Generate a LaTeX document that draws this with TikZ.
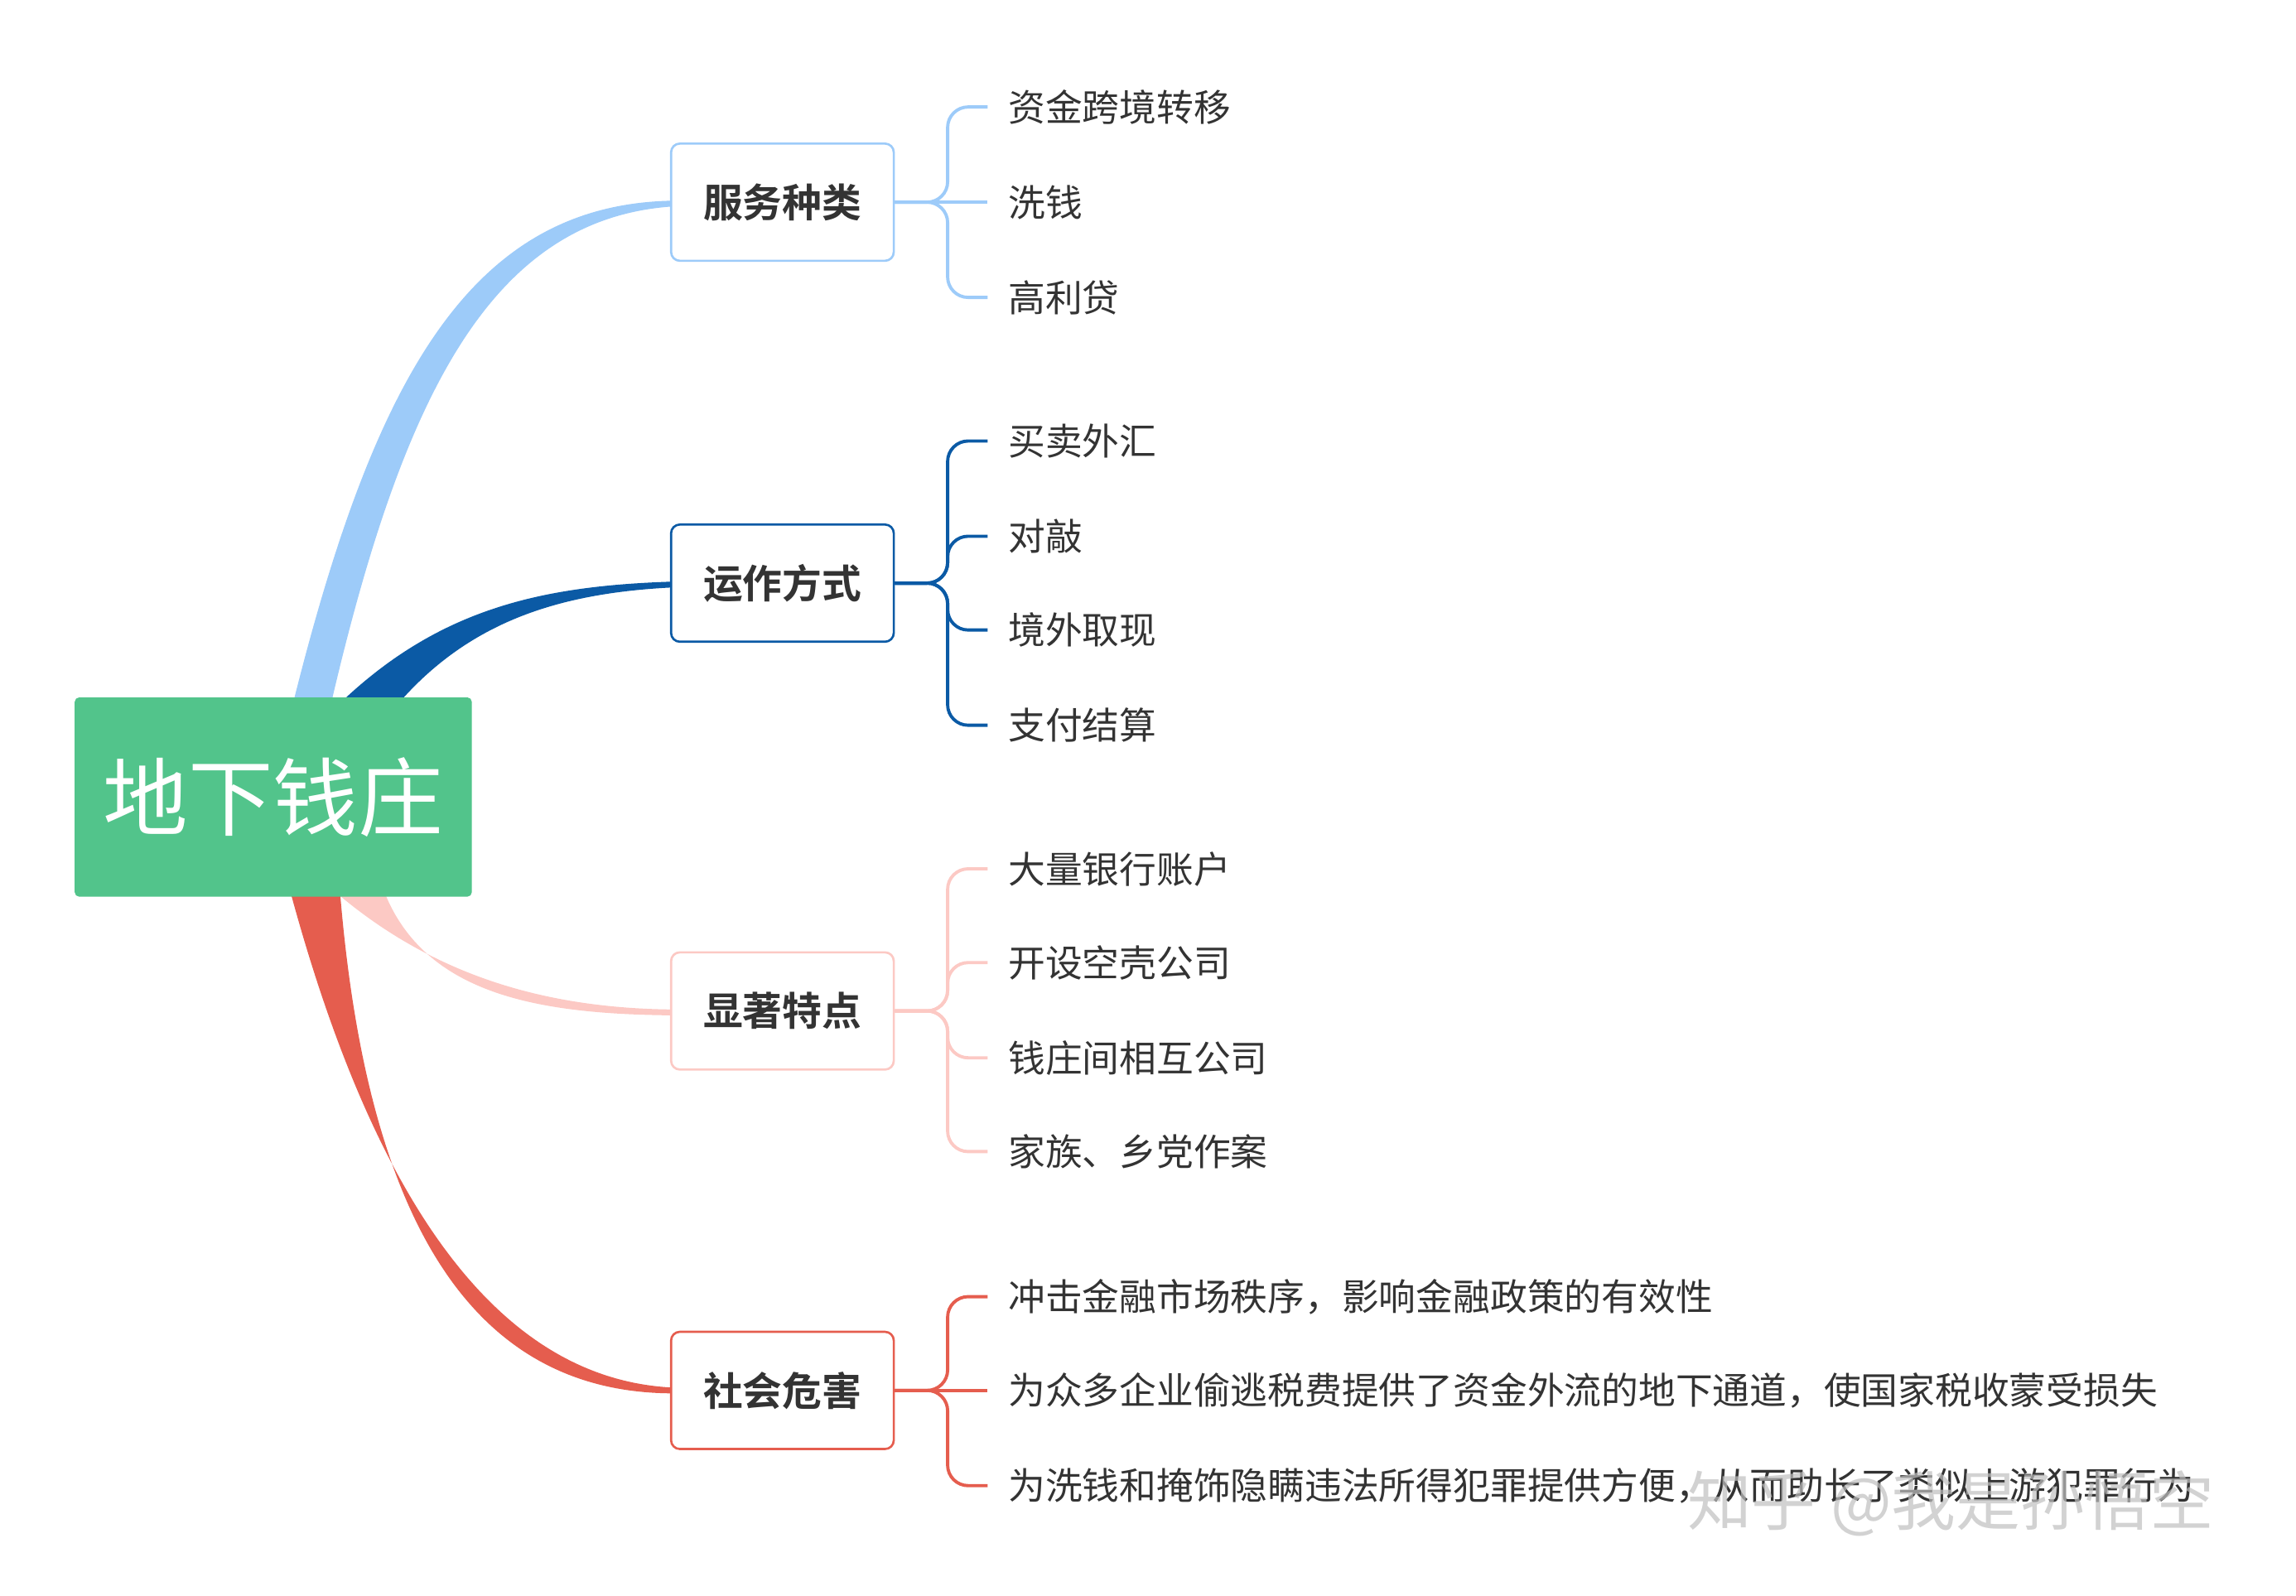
\documentclass[tikz,border=0pt]{standalone}
\usepackage{fontspec}
\setmainfont{Noto Sans CJK SC}[BoldFont={Noto Sans CJK SC Bold}]
\begin{document}
\begin{tikzpicture}[x=1pt,y=-1pt,
  rootbox/.style={fill=rootg,rounded corners=3,minimum width=271,minimum height=136,text=white,font=\fontsize{58}{60}\selectfont,inner sep=0},
  catbox/.style={draw,fill=white,line width=1.5,rounded corners=6,minimum width=152,minimum height=80,text=txt,font=\bfseries\fontsize{27}{30}\selectfont,inner sep=0},
  leaf/.style={anchor=west,text=txt,font=\fontsize{25.3}{28}\selectfont,inner sep=0},
  brace/.style={line width=2.2,rounded corners=14}]
\definecolor{rootg}{HTML}{52C48B}
\definecolor{txt}{HTML}{333333}
\definecolor{lb}{HTML}{9DCBF9}
\definecolor{db}{HTML}{0B5AA5}
\definecolor{pk}{HTML}{FCC9C4}
\definecolor{rd}{HTML}{E55D4E}
\useasboundingbox (0,0) rectangle (1567,1089);
% tapered branches
\fill[lb] (200,480) .. controls (255,260) and (320,140) .. (458,137) -- (458,141) .. controls (335,150) and (275,270) .. (226,480) -- cycle;
\fill[db] (232,480) .. controls (300,415) and (370,400) .. (458,397) -- (458,401) .. controls (380,405) and (320,425) .. (272,480) -- cycle;
\fill[pk] (228,608) .. controls (300,670) and (380,688) .. (458,689) -- (458,693) .. controls (370,692) and (290,680) .. (262,608) -- cycle;
\fill[rd] (198,608) .. controls (250,800) and (330,940) .. (458,947) -- (458,951) .. controls (320,950) and (250,830) .. (232,608) -- cycle;
\node[rootbox] (root) at (186.5,544) {地下钱庄};
\node[catbox,draw=lb] (c1) at (534,138) {服务种类};
\node[catbox,draw=db] (c2) at (534,398) {运作方式};
\node[catbox,draw=pk] (c3) at (534,690) {显著特点};
\node[catbox,draw=rd] (c4) at (534,949) {社会危害};
% leaves
\node[leaf] (l11) at (688,73) {资金跨境转移};
\node[leaf] (l12) at (688,138) {洗钱};
\node[leaf] (l13) at (688,203) {高利贷};
\node[leaf] (l21) at (688,301) {买卖外汇};
\node[leaf] (l22) at (688,366) {对敲};
\node[leaf] (l23) at (688,430) {境外取现};
\node[leaf] (l24) at (688,495) {支付结算};
\node[leaf] (l31) at (688,593) {大量银行账户};
\node[leaf] (l32) at (688,657) {开设空壳公司};
\node[leaf] (l33) at (688,722) {钱庄间相互公司};
\node[leaf] (l34) at (688,786) {家族、乡党作案};
\node[leaf] (l41) at (688,885) {冲击金融市场秩序，影响金融政策的有效性};
\node[leaf] (l42) at (688,949) {为众多企业偷逃税费提供了资金外流的地下通道，使国家税收蒙受损失};
\node[leaf] (l43) at (688,1014) {为洗钱和掩饰隐瞒违法所得犯罪提供方便，从而助长了类似上游犯罪行为};
% braces
\foreach \c/\l/\col in {c1/l11/lb,c1/l13/lb,c2/l21/db,c2/l22/db,c2/l23/db,c2/l24/db,c3/l31/pk,c3/l32/pk,c3/l33/pk,c3/l34/pk,c4/l41/rd,c4/l43/rd}
  \draw[brace,\col] (\c.east) -- ++(36,0) |- ([xshift=-14pt]\l.west);
\draw[brace,lb] (c1.east) -- ([xshift=-14pt]l12.west);
\draw[brace,rd] (c4.east) -- ([xshift=-14pt]l42.west);
\node[text=gray!50,opacity=0.7,font=\fontsize{44}{48}\selectfont,anchor=west] (wm) at (1148,1026) {知乎 @我是孙悟空};
\end{tikzpicture}
\end{document}
